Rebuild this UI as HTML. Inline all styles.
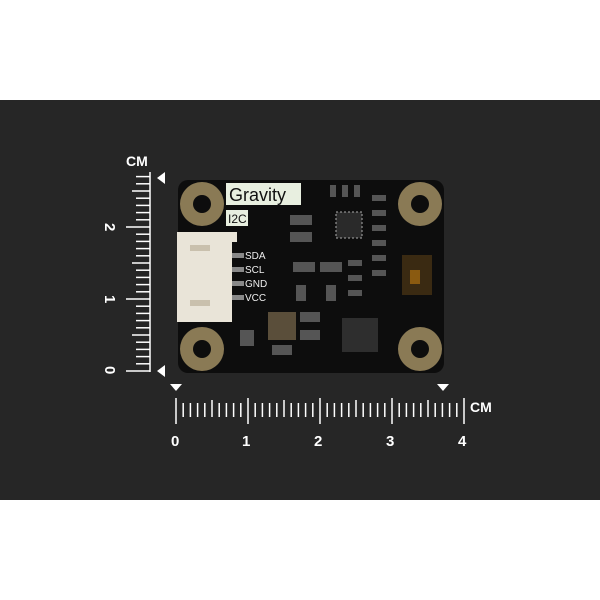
<!DOCTYPE html>
<html><head><style>body{margin:0;background:#fff}svg{display:block}</style></head><body>
<svg width="600" height="600" viewBox="0 0 600 600" xmlns="http://www.w3.org/2000/svg" font-family="Liberation Sans, sans-serif">
<rect x="0" y="100" width="600" height="400" fill="#262626"/>
<!-- board -->
<rect x="178" y="180" width="266" height="193" rx="10" fill="#0d0d0d"/>
<g fill="#8a7a55">
<circle cx="202" cy="204" r="22"/><circle cx="420" cy="204" r="22"/><circle cx="202" cy="349" r="22"/><circle cx="420" cy="349" r="22"/>
</g>
<g fill="#0d0d0d">
<circle cx="202" cy="204" r="9"/><circle cx="420" cy="204" r="9"/><circle cx="202" cy="349" r="9"/><circle cx="420" cy="349" r="9"/>
</g>
<rect x="226" y="183" width="75" height="22" fill="#e8efe0"/>
<text x="229" y="201" font-size="18" fill="#111">Gravity</text>
<rect x="226" y="210" width="22" height="16" fill="#e8efe0"/>
<text x="228" y="223" font-size="12" fill="#111">I2C</text>
<!-- connector -->
<rect x="177" y="232" width="55" height="90" fill="#e9e4d8"/>
<rect x="232" y="232" width="5" height="10" fill="#e9e4d8"/>
<rect x="190" y="245" width="20" height="6" fill="#c9c0ad"/>
<rect x="190" y="300" width="20" height="6" fill="#c9c0ad"/>
<g fill="#888"><rect x="232" y="253" width="12" height="5"/><rect x="232" y="267" width="12" height="5"/><rect x="232" y="281" width="12" height="5"/><rect x="232" y="295" width="12" height="5"/></g>
<g fill="#eee" font-size="10"><text x="245" y="259">SDA</text><text x="245" y="273">SCL</text><text x="245" y="287">GND</text><text x="245" y="301">VCC</text></g>
<!-- chips -->
<rect x="336" y="212" width="26" height="26" fill="#2a2a2a" stroke="#aaa" stroke-dasharray="2 2"/>
<rect x="342" y="318" width="36" height="34" fill="#2e2e2e"/>
<rect x="268" y="312" width="28" height="28" fill="#5a4e3a"/>
<rect x="402" y="255" width="30" height="40" fill="#3a2a12"/>
<rect x="410" y="270" width="10" height="14" fill="#8a5a10"/>
<g fill="#555">
<rect x="290" y="215" width="22" height="10"/><rect x="290" y="232" width="22" height="10"/><rect x="293" y="262" width="22" height="10"/><rect x="320" y="262" width="22" height="10"/>
<rect x="372" y="195" width="14" height="6"/><rect x="372" y="210" width="14" height="6"/><rect x="372" y="225" width="14" height="6"/><rect x="372" y="240" width="14" height="6"/><rect x="372" y="255" width="14" height="6"/><rect x="372" y="270" width="14" height="6"/>
<rect x="348" y="260" width="14" height="6"/><rect x="348" y="275" width="14" height="6"/><rect x="348" y="290" width="14" height="6"/>
<rect x="300" y="312" width="20" height="10"/><rect x="300" y="330" width="20" height="10"/><rect x="240" y="330" width="14" height="16"/><rect x="272" y="345" width="20" height="10"/>
<rect x="330" y="185" width="6" height="12"/><rect x="342" y="185" width="6" height="12"/><rect x="354" y="185" width="6" height="12"/>
<rect x="296" y="285" width="10" height="16"/><rect x="326" y="285" width="10" height="16"/>
</g>
<!-- vertical ruler -->
<text x="126" y="166" font-size="14" font-weight="bold" fill="#fff">CM</text>
<line x1="150" y1="172" x2="150" y2="372" stroke="#fff" stroke-width="1.5"/>
<g stroke="#fff" stroke-width="1.5" id="vt"></g>
<path d="M157 178 L165 172 L165 184 Z M157 371 L165 365 L165 377 Z" fill="#fff"/>
<g fill="#fff" font-size="15" font-weight="bold">
<text transform="translate(105,366) rotate(90)">0</text>
<text transform="translate(105,295) rotate(90)">1</text>
<text transform="translate(105,223) rotate(90)">2</text>
</g>
<!-- horizontal ruler -->
<path d="M170 384 L182 384 L176 391 Z M437 384 L449 384 L443 391 Z" fill="#fff"/>
<g fill="#fff" font-size="15" font-weight="bold">
<text x="171" y="446">0</text><text x="242" y="446">1</text><text x="314" y="446">2</text><text x="386" y="446">3</text><text x="458" y="446">4</text>
<text x="470" y="412" font-size="14">CM</text>
</g>
<g id="ht" stroke="#fff" stroke-width="1.5"></g>
<script>
(function(){
var ns="http://www.w3.org/2000/svg";
var h=document.getElementById('ht'),v=document.getElementById('vt');
for(var i=0;i<=40;i++){var x=176+i*7.2;var l=document.createElementNS(ns,'line');
var y1=i%10==0?398:(i%5==0?400:403);var y2=i%10==0?424:417;
l.setAttribute('x1',x);l.setAttribute('x2',x);l.setAttribute('y1',y1);l.setAttribute('y2',y2);h.appendChild(l);}
for(var j=0;j<=27;j++){var y=371-j*7.2;var m=document.createElementNS(ns,'line');
var xl=j%10==0?126:(j%5==0?132:136);
m.setAttribute('x1',xl);m.setAttribute('x2',150);m.setAttribute('y1',y);m.setAttribute('y2',y);v.appendChild(m);}
})();
</script>
</svg>
</body></html>
